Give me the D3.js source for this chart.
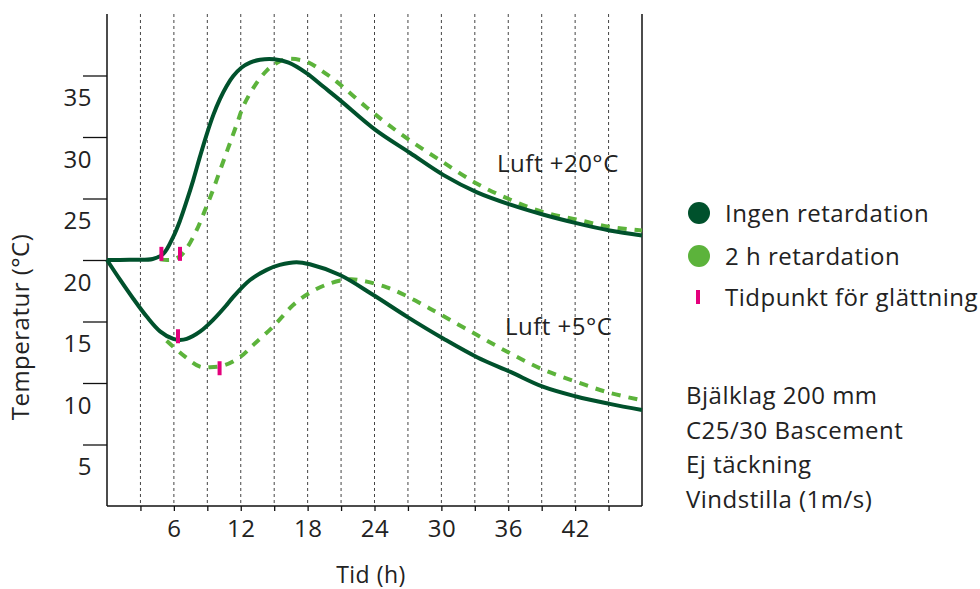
<!DOCTYPE html>
<html>
<head>
<meta charset="utf-8">
<script src="https://cdn.jsdelivr.net/npm/d3@7"></script>
<style>
  html, body { margin: 0; padding: 0; background: #fff; }
  svg { display: block; }
  text { font-family: "Open Sans", sans-serif; fill: #222; letter-spacing: 0.5px; }
</style>
</head>
<body>
<svg id="chart" width="980" height="589"></svg>
<script>
// ---------- data ----------
const xTicks = [3, 6, 9, 12, 15, 18, 21, 24, 27, 30, 33, 36, 39, 42, 45];
const xTickLabels = [6, 12, 18, 24, 30, 36, 42];
const yTicks = [5, 10, 15, 20, 25, 30, 35];

// Luft +20°C, ingen retardation  [time h, temp °C]
const warmNone = [
  [0, 20], [2, 20.02], [4.1, 20.08], [5.05, 20.5], [5.95, 21.9], [6.55, 23.2],
  [7.15, 24.8], [7.74, 26.5], [8.34, 28.4], [8.94, 30.2], [9.54, 31.8],
  [10.14, 33.1], [10.74, 34.15], [11.33, 34.95], [12.08, 35.65], [12.83, 36.05],
  [13.73, 36.28], [15.0, 36.32], [16.3, 36.05], [17.9, 35.2], [19.4, 34.1],
  [20.9, 33.0], [24.05, 30.6], [27.2, 28.7], [30.2, 26.9], [33.2, 25.5],
  [36.2, 24.5], [39.1, 23.7], [42.1, 23.0], [45.1, 22.4], [48, 22.0]
];
// Luft +20°C, 2 h retardation
const warmRet = [
  [4.76, 20.05], [5.4, 20.0], [5.95, 20.05], [6.55, 20.3], [7.15, 20.95],
  [8.05, 22.44], [8.8, 24.07], [9.39, 25.4], [9.99, 26.9], [10.59, 28.4],
  [11.03, 29.5], [11.63, 31.0], [12.23, 32.5], [13.28, 34.2], [14.33, 35.4],
  [15.2, 36.0], [16.12, 36.34], [17.92, 36.12], [19.4, 35.3], [20.6, 34.5],
  [23.3, 32.4], [25.1, 31.1], [27.2, 29.7], [29.9, 28.1], [33.2, 26.2],
  [36.2, 24.9], [39.1, 23.9], [42.1, 23.3], [45.1, 22.7], [48, 22.4]
];
// Luft +5°C, ingen retardation
const coldNone = [
  [0, 20], [1.17, 18.4], [2.36, 16.85], [3.56, 15.4], [4.76, 14.2], [5.95, 13.58],
  [6.55, 13.5], [7.15, 13.58], [8.34, 14.17], [9.54, 15.15], [10.74, 16.35],
  [11.33, 17.0], [12.83, 18.37], [14.33, 19.2], [15.5, 19.6], [17.0, 19.82],
  [18.2, 19.65], [20.9, 18.78], [23.9, 17.15], [26.9, 15.4], [30.2, 13.6],
  [33.2, 12.1], [36.2, 10.9], [39.1, 9.7], [42.1, 8.9], [45.1, 8.3], [48, 7.8]
];
// Luft +5°C, 2 h retardation
const coldRet = [
  [5.35, 13.44], [7.0, 12.14], [8.34, 11.33], [9.24, 11.28], [10.59, 11.46],
  [11.93, 12.1], [13.13, 13.1], [14.92, 14.6], [16.7, 16.34], [18.2, 17.34],
  [20.0, 18.1], [21.8, 18.43], [23.3, 18.24], [25.1, 17.78], [26.7, 17.15],
  [28.4, 16.34], [30.0, 15.53], [33.2, 13.9], [36.2, 12.4], [39.1, 11.1],
  [42.1, 10.1], [45.1, 9.2], [48, 8.6]
];
// Tidpunkt för glättning
const smoothMarks = [[4.88, 20.5], [6.55, 20.5], [6.37, 13.8], [10.1, 11.2]];

const legendItems = ["Ingen retardation", "2 h retardation", "Tidpunkt för glättning"];
const notes = ["Bjälklag 200 mm", "C25/30 Bascement", "Ej täckning", "Vindstilla (1m/s)"];
const curveLabels = [["Luft +20°C", 35.0, 27.15], ["Luft +5°C", 35.7, 13.9]];

// ---------- layout ----------
const dark = "#00512c", light = "#5cb33b", pink = "#e4007c";
const FS = "24px";
const svg = d3.select("#chart");
const x = d3.scaleLinear().domain([0, 48]).range([107, 642]);
const y = d3.scaleLinear().domain([0, 40]).range([506, 14]);

// vertical dashed grid
svg.append("g").selectAll("line").data(xTicks).join("line")
  .attr("x1", d => x(d)).attr("x2", d => x(d))
  .attr("y1", y(40)).attr("y2", y(0))
  .attr("stroke", "#444").attr("stroke-width", 1).attr("stroke-dasharray", "3,3");

// right border
svg.append("line").attr("x1", x(48)).attr("x2", x(48)).attr("y1", y(40)).attr("y2", y(0))
  .attr("stroke", "#111").attr("stroke-width", 1.5);

// x axis
const xAxis = svg.append("g").attr("transform", `translate(0,${y(0)})`)
  .call(d3.axisBottom(x).tickValues(xTicks).tickSize(5)
    .tickFormat(d => xTickLabels.includes(d) ? d : ""));
xAxis.select(".domain").attr("stroke", "#111").attr("stroke-width", 1.5)
  .attr("d", `M${x(0)},0H${x(48)}`);
xAxis.selectAll(".tick line").attr("stroke", "#111").attr("stroke-width", 1.3);
xAxis.selectAll(".tick text").attr("y", 31).attr("dy", 0)
  .style("font-family", "'Open Sans', sans-serif").style("font-size", FS)
  .style("letter-spacing", "0.5px").attr("fill", "#222");

// y axis
const yAxis = svg.append("g").attr("transform", `translate(${x(0)},0)`)
  .call(d3.axisLeft(y).tickValues(yTicks).tickSize(24));
yAxis.select(".domain").attr("stroke", "#111").attr("stroke-width", 1.5)
  .attr("d", `M0,${y(40)}V${y(0)}`);
yAxis.selectAll(".tick line").attr("stroke", "#111").attr("stroke-width", 1.3);
yAxis.selectAll(".tick text").attr("x", -15).attr("dy", 0).attr("y", 30)
  .style("font-family", "'Open Sans', sans-serif").style("font-size", FS)
  .style("letter-spacing", "0.5px").attr("fill", "#222");

// axis titles
svg.append("text").attr("x", 371).attr("y", 583).attr("text-anchor", "middle")
  .style("font-size", "23px").text("Tid (h)");
svg.append("text").attr("transform", "translate(29,327) rotate(-90)")
  .attr("text-anchor", "middle").style("font-size", FS).text("Temperatur (°C)");

// curves
const line = d3.line().x(d => x(d[0])).y(d => y(d[1])).curve(d3.curveCatmullRom.alpha(0.5));
const curves = [
  [coldRet, light, true], [warmRet, light, true],
  [coldNone, dark, false], [warmNone, dark, false]
];
svg.append("g").selectAll("path").data(curves).join("path")
  .attr("d", d => line(d[0]))
  .attr("fill", "none").attr("stroke", d => d[1]).attr("stroke-width", 4)
  .attr("stroke-dasharray", d => d[2] ? "9,8" : null);

// smoothing markers
svg.append("g").selectAll("rect").data(smoothMarks).join("rect")
  .attr("x", d => x(d[0]) - 2).attr("y", d => y(d[1]) - 7)
  .attr("width", 4).attr("height", 14).attr("fill", pink);

// curve labels
svg.append("g").selectAll("text").data(curveLabels).join("text")
  .attr("x", d => x(d[1])).attr("y", d => y(d[2]))
  .style("font-size", FS).text(d => d[0]);

// legend
const lg = svg.append("g");
const legY = [213, 256, 297];
lg.selectAll("circle").data(legendItems.slice(0, 2)).join("circle")
  .attr("cx", 699).attr("cy", (d, i) => legY[i]).attr("r", 11)
  .attr("fill", (d, i) => i === 0 ? dark : light);
lg.append("rect").attr("x", 696).attr("y", legY[2] - 7).attr("width", 4).attr("height", 14).attr("fill", pink);
lg.selectAll("text").data(legendItems).join("text")
  .attr("x", 725).attr("y", (d, i) => legY[i] + 9)
  .style("font-size", FS).text(d => d);

// notes
svg.append("g").selectAll("text").data(notes).join("text")
  .attr("x", 686).attr("y", (d, i) => 404 + i * 34.6)
  .style("font-size", FS).text(d => d);
</script>
</body>
</html>
